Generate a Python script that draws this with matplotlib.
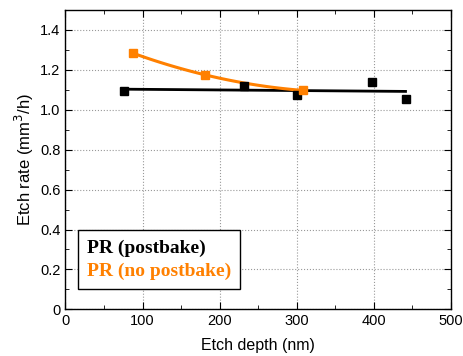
import numpy as np
import matplotlib.pyplot as plt
from matplotlib.ticker import MultipleLocator, FuncFormatter

# postbake series
depth_pb = [76, 232, 300, 397, 441]
rate_pb = [1.095, 1.117, 1.075, 1.140, 1.056]
# no postbake series
depth_npb = [88, 181, 308]
rate_npb = [1.283, 1.175, 1.097]

orange = '#FF8000'

plt.rcParams['font.family'] = ['Liberation Sans', 'DejaVu Sans']

fig = plt.figure(figsize=(4.64, 3.56), dpi=100)
ax = fig.add_axes([0.141, 0.131, 0.831, 0.841])

# linear fit for postbake
p1 = np.polyfit(depth_pb, rate_pb, 1)
xf = np.linspace(min(depth_pb), max(depth_pb), 50)
ax.plot(xf, np.polyval(p1, xf), color='black', lw=2, zorder=3)
ax.plot(depth_pb, rate_pb, 's', color='black', ms=6, zorder=4)

# smooth curve for no postbake
p2 = np.polyfit(depth_npb, rate_npb, 2)
xc = np.linspace(min(depth_npb), max(depth_npb), 80)
ax.plot(xc, np.polyval(p2, xc), color=orange, lw=2.2, zorder=3)
ax.plot(depth_npb, rate_npb, 's', color=orange, ms=5.5, zorder=4)

ax.set_xlim(0, 500)
ax.set_ylim(0, 1.5)
ax.xaxis.set_major_locator(MultipleLocator(100))
ax.xaxis.set_minor_locator(MultipleLocator(50))
ax.yaxis.set_major_locator(MultipleLocator(0.2))
ax.yaxis.set_minor_locator(MultipleLocator(0.1))
ax.yaxis.set_major_formatter(FuncFormatter(lambda v, p: '0' if abs(v) < 1e-9 else f'{v:.1f}'))
ax.tick_params(which='both', direction='in', top=True, right=True, labelsize=10.5)
ax.tick_params(which='major', length=5)
ax.tick_params(which='minor', length=3)
ax.grid(True, which='major', linestyle=':', color='#999999', lw=0.8)
for s in ax.spines.values():
    s.set_linewidth(1.0)

ax.set_xlabel('Etch depth (nm)', fontsize=11.5, labelpad=7)
ax.set_ylabel('Etch rate (mm$^3$/h)', fontsize=12, labelpad=3)

h1, = ax.plot([], [], color='none')
h2, = ax.plot([], [], color='none')
leg = ax.legend([h1, h2], ['PR (postbake)', 'PR (no postbake)'], loc='lower left',
                bbox_to_anchor=(0.032, 0.068), borderaxespad=0,
                handlelength=0, handletextpad=0,
                fancybox=False, edgecolor='black', framealpha=1,
                prop={'family': 'Liberation Serif', 'weight': 'bold', 'size': 14},
                labelcolor=['black', orange], borderpad=0.45, labelspacing=0.3)
leg.get_frame().set_linewidth(1.0)

fig.savefig('out.png', dpi=100)
